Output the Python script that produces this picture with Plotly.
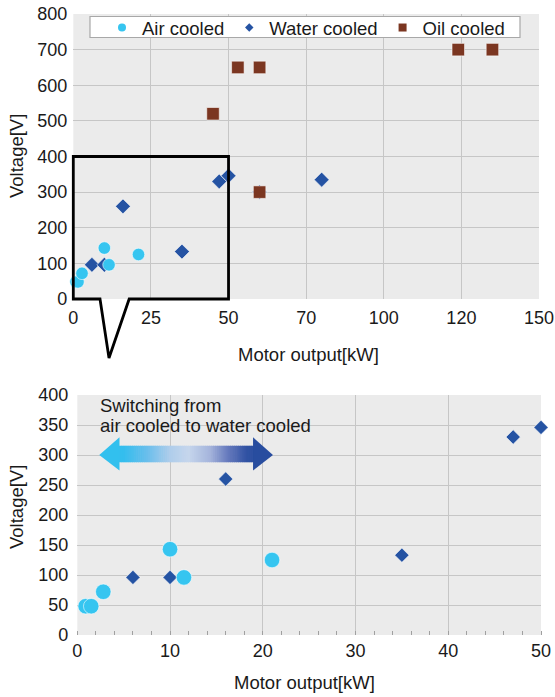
import plotly.graph_objects as go

# ---------------- data ----------------
air_x = [0.9, 1.5, 2.8, 10, 11.5, 21]
air_y = [48, 48, 72, 143, 96, 125]
water_x = [6, 10, 16, 35, 47, 50, 60, 80]
water_y = [96, 96, 260, 133, 330, 346, 300, 335]
oil_x = [45, 53, 60, 60, 124, 135]
oil_y = [520, 650, 650, 300, 700, 700]

series_names = ["Air cooled", "Water cooled", "Oil cooled"]

top_xticks = [0, 25, 50, 75, 100, 125, 150]
top_xlabels = ["0", "25", "50", "70", "100", "120", "150"]
top_yticks = [0, 100, 200, 300, 400, 500, 600, 700, 800]
bot_xticks = [0, 10, 20, 30, 40, 50]
bot_yticks = [0, 50, 100, 150, 200, 250, 300, 350, 400]

# ---------------- style ----------------
W, H = 555, 697
FONT = "Liberation Sans, Arial, sans-serif"
TXT = "#1a1a1a"
C_AIR = "#36C5F0"
C_WATER = "#2553A3"
C_OIL = "#7B3621"
BG = "#EBEBEB"
GRID = "#C6C6C6"

TOP_X = (73.3, 539.0)
TOP_Y = (14.0, 299.0)
BOT_X = (77.3, 541.0)
BOT_Y = (395.0, 635.0)


def px_x(p):
    return p / W


def px_y(p):
    return 1 - p / H


def top_xp(v):
    return px_x(TOP_X[0] + v * (TOP_X[1] - TOP_X[0]) / 150.0)


def top_yp(v):
    return px_y(TOP_Y[1] - v * (TOP_Y[1] - TOP_Y[0]) / 800.0)


fig = go.Figure()

edge = dict(width=0.8, color="rgba(255,255,255,0.7)")

# ---- top chart ----
fig.add_trace(go.Scatter(x=water_x, y=water_y, mode="markers", xaxis="x", yaxis="y",
                         marker=dict(symbol="diamond", size=11.5, color=C_WATER, line=edge),
                         showlegend=False, cliponaxis=False))
fig.add_trace(go.Scatter(x=oil_x, y=oil_y, mode="markers", xaxis="x", yaxis="y",
                         marker=dict(symbol="square", size=12.5, color=C_OIL, line=edge),
                         showlegend=False, cliponaxis=False))
fig.add_trace(go.Scatter(x=air_x, y=air_y, mode="markers", xaxis="x", yaxis="y",
                         marker=dict(symbol="circle", size=12.5, color=C_AIR, line=edge),
                         showlegend=False, cliponaxis=False))


# ---- bottom chart (zoomed region) ----
def inside(xs, ys):
    pts = [(a, b) for a, b in zip(xs, ys) if a <= 50 and b <= 400]
    return [p[0] for p in pts], [p[1] for p in pts]


wx, wy = inside(water_x, water_y)
ax_, ay_ = inside(air_x, air_y)
fig.add_trace(go.Scatter(x=wx, y=wy, mode="markers", xaxis="x2", yaxis="y2",
                         marker=dict(symbol="diamond", size=11, color=C_WATER, line=edge),
                         showlegend=False, cliponaxis=False))
fig.add_trace(go.Scatter(x=ax_, y=ay_, mode="markers", xaxis="x2", yaxis="y2",
                         marker=dict(symbol="circle", size=15.5, color=C_AIR, line=edge),
                         showlegend=False, cliponaxis=False))

# ---- legend entries ----
for name, sym, col in zip(series_names, ["circle", "diamond", "square"], [C_AIR, C_WATER, C_OIL]):
    fig.add_trace(go.Scatter(x=[None], y=[None], mode="markers", name=name, xaxis="x", yaxis="y",
                             marker=dict(symbol=sym, size=8 if sym != "diamond" else 6.5, color=col)))

shapes = []
# legend box
shapes.append(dict(type="rect", xref="paper", yref="paper", layer="above",
                   x0=px_x(90), x1=px_x(520), y0=px_y(37.5), y1=px_y(16.5),
                   fillcolor="white", line=dict(color="#A8A8A8", width=1.2)))

# callout box with tail (top chart)
tip_y = px_y(358)
pts = [(top_xp(0), top_yp(400)), (top_xp(50), top_yp(400)), (top_xp(50), top_yp(0)),
       (top_xp(18), top_yp(0)), (top_xp(11.5), tip_y), (top_xp(8.6), top_yp(0)),
       (top_xp(0), top_yp(0))]
path = "M " + " L ".join(f"{x:.5f},{y:.5f}" for x, y in pts) + " Z"
shapes.append(dict(type="path", xref="paper", yref="paper", path=path, layer="above",
                   line=dict(color="black", width=2.8), fillcolor="rgba(0,0,0,0)"))

# gradient double arrow (bottom chart)
stops = [(2.4, (50, 192, 238)), (5.0, (52, 190, 238)), (7.5, (105, 190, 236)),
         (10.0, (175, 205, 235)), (12.0, (198, 214, 236)), (14.3, (165, 180, 220)),
         (16.3, (100, 120, 188)), (18.3, (48, 82, 163)), (21.2, (38, 76, 158))]


def col_at(x):
    for (x0, c0), (x1, c1) in zip(stops[:-1], stops[1:]):
        if x0 <= x <= x1:
            t = (x - x0) / (x1 - x0)
            return "rgb(%d,%d,%d)" % tuple(round(a + (b - a) * t) for a, b in zip(c0, c1))
    return "rgb(%d,%d,%d)" % stops[-1][1]


sx0, sx1, sy0, sy1 = 4.5, 19.0, 288, 315.5
N = 70
step = (sx1 - sx0) / N
for i in range(N):
    a = sx0 + i * step
    shapes.append(dict(type="rect", xref="x2", yref="y2", layer="above",
                       x0=a - 0.01, x1=a + step + 0.06, y0=sy0, y1=sy1,
                       fillcolor=col_at(a + step / 2), line=dict(width=0)))
shapes.append(dict(type="path", xref="x2", yref="y2", layer="above",
                   path="M 2.37,300 L 4.55,329.5 L 4.55,274 Z",
                   fillcolor=col_at(3), line=dict(width=0)))
shapes.append(dict(type="path", xref="x2", yref="y2", layer="above",
                   path="M 18.95,329.5 L 21.1,300 L 18.95,274 Z",
                   fillcolor=col_at(20.5), line=dict(width=0)))


def label(text, x, y, angle=0, xa="center", ya="middle", size=18):
    return dict(text=text, xref="paper", yref="paper", x=px_x(x), y=px_y(y),
                xanchor=xa, yanchor=ya, textangle=angle, showarrow=False,
                font=dict(size=size, color=TXT, family=FONT))


annotations = [
    label("Voltage[V]", 16, 156, angle=-90, size=18.5),
    label("Voltage[V]", 16, 507, angle=-90, size=18.5),
    label("Motor output[kW]", 308, 354, size=18.5),
    label("Motor output[kW]", 304, 682, size=18.5),
    label("Switching from", 98, 405, xa="left", size=18.5),
    label("air cooled to water cooled", 98, 425, xa="left", size=18.5),
]

axis_common = dict(showline=False, zeroline=False, showgrid=True, gridcolor=GRID, gridwidth=1,
                   automargin=False, ticks="", tickfont=dict(size=18, color=TXT, family=FONT),
                   fixedrange=True)

fig.update_layout(
    width=W, height=H, margin=dict(l=0, r=0, t=0, b=0, autoexpand=False),
    paper_bgcolor="white", plot_bgcolor=BG,
    font=dict(family=FONT, size=18, color=TXT),
    xaxis=dict(domain=[px_x(TOP_X[0]), px_x(TOP_X[1])], range=[0, 150], anchor="y",
               tickmode="array", tickvals=top_xticks, ticktext=top_xlabels,
               ticklabelstandoff=6, **axis_common),
    yaxis=dict(domain=[px_y(TOP_Y[1]), px_y(TOP_Y[0])], range=[0, 800], anchor="x",
               tickmode="array", tickvals=top_yticks, ticklabelstandoff=5, **axis_common),
    xaxis2=dict(domain=[px_x(BOT_X[0]), px_x(BOT_X[1])], range=[0, 50], anchor="y2",
                tickmode="array", tickvals=bot_xticks, ticklabelstandoff=3,
                minor=dict(ticks="inside", dtick=2, ticklen=4, tickcolor="#A0A0A0", showgrid=False),
                **axis_common),
    yaxis2=dict(domain=[px_y(BOT_Y[1]), px_y(BOT_Y[0])], range=[0, 400], anchor="x2",
                tickmode="array", tickvals=bot_yticks, ticklabelstandoff=8, **axis_common),
    legend=dict(orientation="h", x=px_x(102), y=px_y(9), xanchor="left", yanchor="top",
                bgcolor="rgba(0,0,0,0)", borderwidth=0, font=dict(size=18.5, color=TXT, family=FONT),
                itemwidth=30, tracegroupgap=0),
    shapes=shapes, annotations=annotations,
)

fig.write_html("out.html")
